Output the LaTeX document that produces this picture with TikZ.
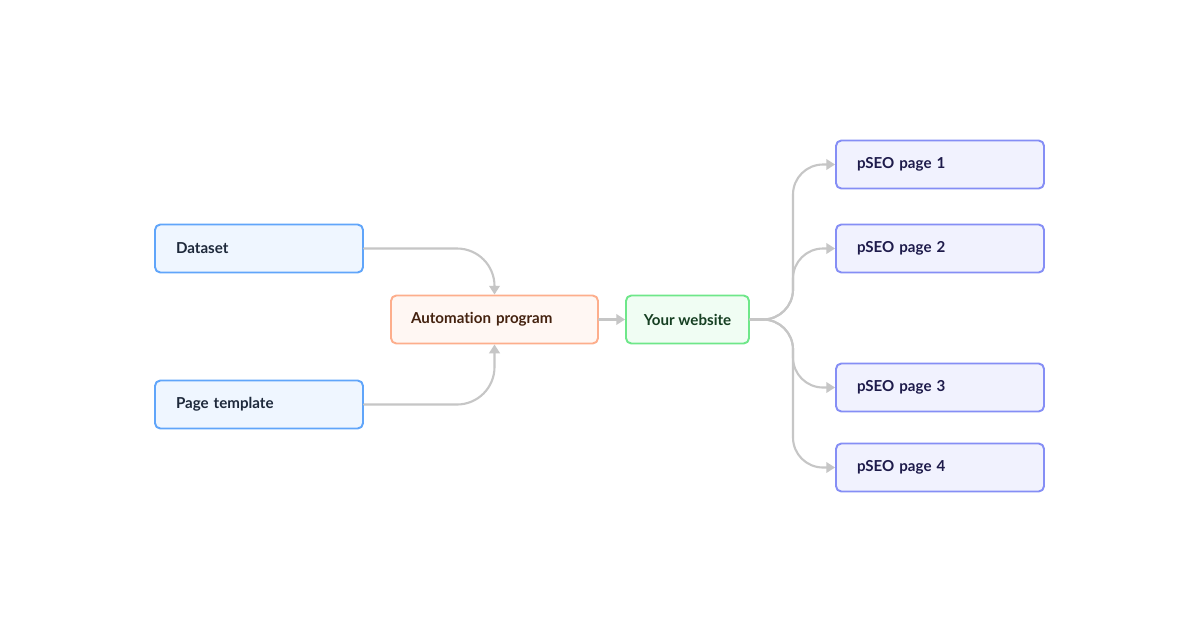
\documentclass[tikz,border=0pt]{standalone}
\usepackage{fontspec}
\setmainfont[Ligatures=NoCommon]{Lato}
\usetikzlibrary{arrows.meta}
\definecolor{arrowgray}{HTML}{C6C6C6}
\definecolor{blueline}{HTML}{60A5FA}
\definecolor{bluefill}{HTML}{EFF6FF}
\definecolor{bluetext}{HTML}{1E293B}
\definecolor{orangeline}{HTML}{FDAE8C}
\definecolor{orangefill}{HTML}{FFF7F3}
\definecolor{orangetext}{HTML}{44220F}
\definecolor{greenline}{HTML}{6EE789}
\definecolor{greenfill}{HTML}{F0FDF3}
\definecolor{greentext}{HTML}{163F22}
\definecolor{indigoline}{HTML}{858EF5}
\definecolor{indigofill}{HTML}{F1F2FE}
\definecolor{indigotext}{HTML}{1E1B4B}
\tikzset{
  card/.style={draw, rounded corners=3pt, line width=1.1pt, minimum height=0.96cm,
    inner xsep=0.42cm, align=left, font=\fontsize{8.6}{10}\selectfont\bfseries},
  inputcard/.style={card, draw=blueline, fill=bluefill, text=bluetext, text width=3.32cm},
  programcard/.style={card, draw=orangeline, fill=orangefill, text=orangetext, inner xsep=0.4cm, text width=3.34cm},
  sitecard/.style={card, draw=greenline, fill=greenfill, text=greentext, align=center, inner xsep=0pt, minimum width=2.46cm},
  pagecard/.style={card, draw=indigoline, fill=indigofill, text=indigotext, text width=3.32cm},
  conn/.style={draw=arrowgray, line width=1.2pt, -{Triangle[length=5pt,width=6pt]}}
}
\begin{document}
\begin{tikzpicture}[x=0.02cm,y=-0.02cm,line join=round,line cap=round]
\useasboundingbox[fill=white] (0,0) rectangle (1200,630);
% inputs and program
\node[inputcard] (dataset) at (259,248.5) {Dataset};
\node[inputcard] (template) at (259,404.5) {Page template};
\node[programcard] (program) at (494.5,319.5) {Automation program};
\node[sitecard] (website) at (687.5,319.5) {Your website};
% generated pages
\foreach \n/\y in {1/164.5, 2/248.5, 3/387.5, 4/467.5}
  \node[pagecard] (page\n) at (940,\y) {pSEO page \n};
% connectors
\draw[conn, rounded corners=0.75cm] (dataset.east) -| (program.north);
\draw[conn, rounded corners=0.75cm] (template.east) -| (program.south);
\draw[conn] (program.east) -- (website.west);
\coordinate (fork) at (793,319.5);
\foreach \n in {1,2,3,4}
  \draw[conn, rounded corners=0.6cm] (website.east) -| (fork |- page\n.west) -- (page\n.west);
\end{tikzpicture}
\end{document}
